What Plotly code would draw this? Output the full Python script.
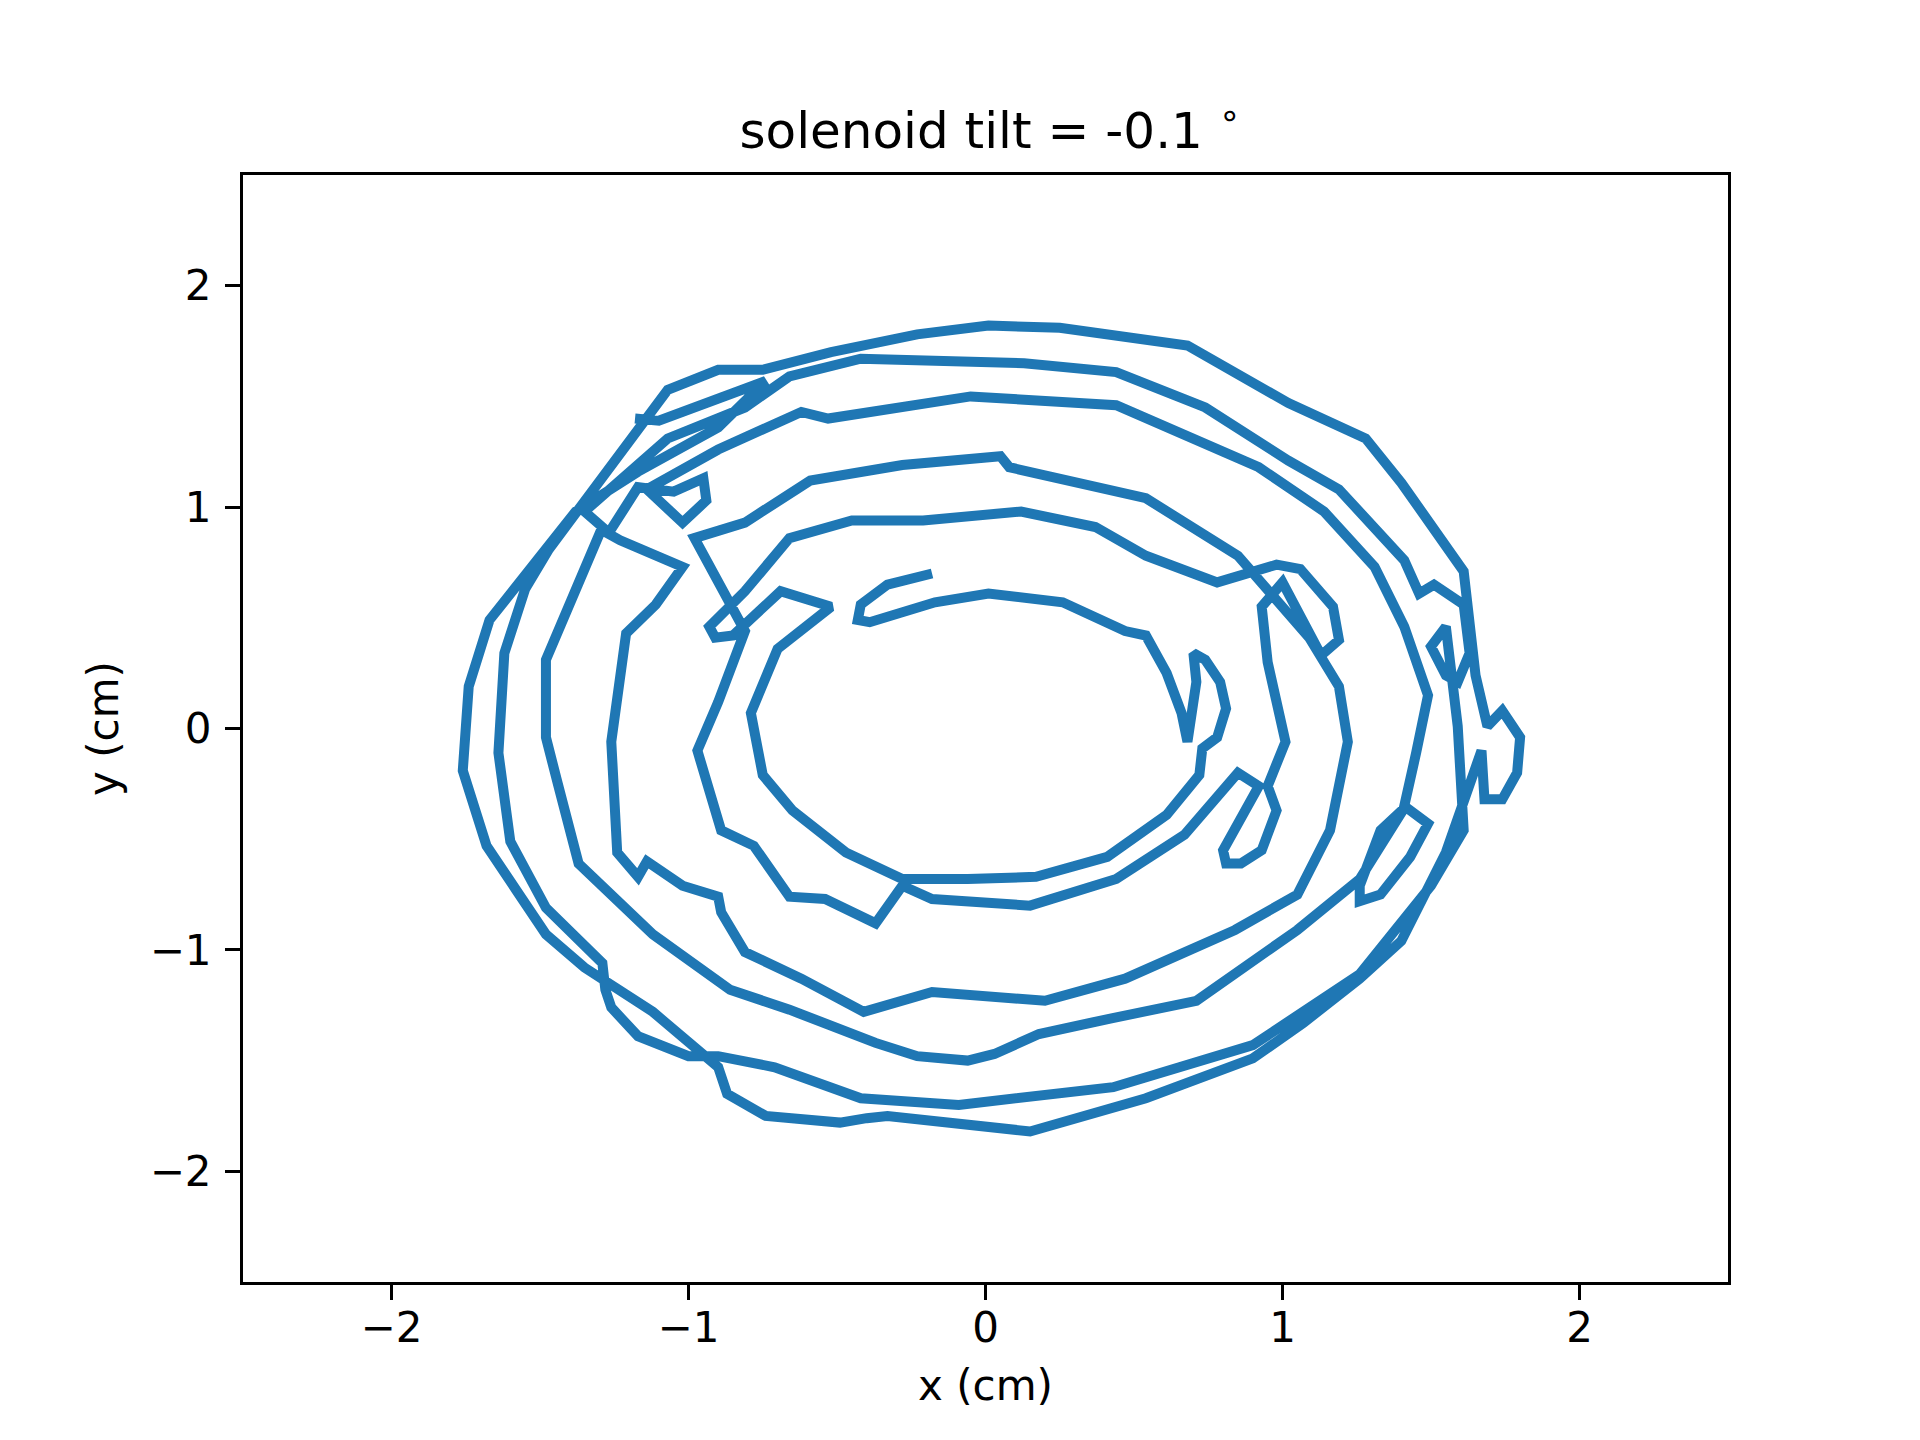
import plotly.graph_objects as go

# trajectory, one ring at a time (inner -> outer), in cm
ring1_x = [-0.18, -0.33, -0.42, -0.43, -0.39, -0.17, 0.01, 0.26, 0.47, 0.54, 0.61, 0.66, 0.68,
           0.71, 0.70, 0.74, 0.79, 0.81, 0.78, 0.73, 0.72, 0.61, 0.41, 0.17, -0.06, -0.28,
           -0.47, -0.65, -0.75, -0.79, -0.70, -0.52]
ring1_y = [0.70, 0.65, 0.56, 0.49, 0.48, 0.57, 0.61, 0.57, 0.44, 0.42, 0.25, 0.07, -0.06,
           0.21, 0.34, 0.31, 0.21, 0.09, -0.04, -0.09, -0.21, -0.39, -0.58, -0.67, -0.68, -0.68,
           -0.56, -0.37, -0.21, 0.07, 0.36, 0.55]

ring2_x = [-0.69, -0.85, -0.91, -0.93, -0.81, -0.66, -0.45, -0.21, 0.12, 0.37, 0.54, 0.78,
           0.98, 1.06, 1.17, 1.19, 1.13, 1.00, 0.93, 0.95,
           1.01, 0.95, 0.98, 0.93, 0.86, 0.81, 0.80, 0.92, 0.85, 0.67, 0.44, 0.15, -0.18, -0.28,
           -0.37, -0.54, -0.66, -0.78, -0.89, -0.97, -0.90, -0.81]
ring2_y = [0.62, 0.42, 0.41, 0.46, 0.62, 0.86, 0.94, 0.94, 0.98, 0.91, 0.78, 0.66,
           0.74, 0.72, 0.55, 0.40, 0.33, 0.66, 0.55, 0.30,
           -0.06, -0.26, -0.37, -0.55, -0.61, -0.61, -0.55, -0.26, -0.20, -0.48, -0.68, -0.80, -0.77, -0.71,
           -0.88, -0.77, -0.76, -0.53, -0.46, -0.10, 0.12, 0.44]

ring3_x = [-0.98, -0.81, -0.59, -0.28, 0.05, 0.08, 0.54, 0.85, 1.09, 1.19, 1.22, 1.16, 1.05, 0.84,
           0.47, 0.20, -0.18, -0.41, -0.62, -0.81, -0.89, -0.90, -1.02, -1.14, -1.17, -1.24,
           -1.26, -1.21, -1.11, -1.02,
           -1.23, -1.27, -1.17, -1.05, -0.95, -0.94, -1.02]
ring3_y = [0.86, 0.93, 1.12, 1.19, 1.23, 1.18, 1.04, 0.78, 0.41, 0.19, -0.06, -0.46, -0.75, -0.91,
           -1.13, -1.23, -1.19, -1.28, -1.13, -1.01, -0.83, -0.76, -0.71, -0.60, -0.67, -0.56,
           -0.06, 0.43, 0.56, 0.73,
           0.85, 0.88, 1.09, 1.07, 1.13, 1.03, 0.93]

ring4_x = [-1.14, -0.90, -0.62, -0.53, -0.05, 0.44, 0.66, 0.92, 1.14, 1.31, 1.41, 1.49, 1.45, 1.41,
           1.49, 1.43, 1.33, 1.26, 1.26, 1.33, 1.41, 1.26, 1.05, 0.71, 0.42, 0.18, 0.03, -0.06,
           -0.23, -0.37, -0.66, -0.86, -1.12, -1.24, -1.37, -1.44, -1.48, -1.48, -1.38, -1.29]
ring4_y = [1.08, 1.26, 1.43, 1.40, 1.50, 1.46, 1.33, 1.18, 0.98, 0.73, 0.46, 0.15, -0.11, -0.35,
           -0.43, -0.58, -0.75, -0.78, -0.71, -0.46, -0.36, -0.68, -0.91, -1.23, -1.31, -1.38, -1.47, -1.50,
           -1.48, -1.42, -1.27, -1.18, -0.93, -0.78, -0.61, -0.25, -0.04, 0.31, 0.63, 0.91]

ring5_x = [-1.35, -1.07, -0.81, -0.66, -0.42, 0.13, 0.44, 0.74, 1.02, 1.19, 1.41,
           1.46, 1.51, 1.61, 1.63, 1.59, 1.55, 1.50,
           1.55, 1.59, 1.61,
           1.50, 1.26, 0.90, 0.43, -0.09, -0.42, -0.71, -0.90, -1.00, -1.17, -1.26, -1.28, -1.29,
           -1.48, -1.60, -1.64, -1.62, -1.55, -1.47]
ring5_y = [0.98, 1.31, 1.45, 1.59, 1.67, 1.65, 1.61, 1.45, 1.21, 1.08, 0.76,
           0.61, 0.65, 0.56, 0.34, 0.21, 0.24, 0.37,
           0.46, 0.01, -0.46,
           -0.71, -1.11, -1.43, -1.62, -1.70, -1.67, -1.53, -1.48, -1.48, -1.39, -1.26, -1.18, -1.06,
           -0.81, -0.51, -0.11, 0.34, 0.63, 0.81]

ring6_x = [-1.07, -0.90, -0.75, -0.52, -0.23, 0.01, 0.25, 0.68, 1.02, 1.28, 1.40, 1.61, 1.65, 1.69,
           1.74, 1.80, 1.79, 1.74, 1.68, 1.67, 1.55, 1.40, 1.26, 1.07, 0.90, 0.54, 0.15, -0.33,
           -0.40, -0.49, -0.74, -0.87, -0.90, -1.12, -1.35, -1.48, -1.58, -1.68, -1.76, -1.74,
           -1.67, -1.53, -1.38, -1.17, -0.90, -0.74, -1.04, -1.10, -1.18]
ring6_y = [1.53, 1.62, 1.62, 1.70, 1.78, 1.82, 1.81, 1.73, 1.47, 1.31, 1.11, 0.71, 0.24, 0.01,
           0.08, -0.04, -0.20, -0.32, -0.32, -0.10, -0.56, -0.96, -1.13, -1.33, -1.49, -1.67, -1.82, -1.75,
           -1.76, -1.78, -1.75, -1.65, -1.53, -1.28, -1.08, -0.93, -0.73, -0.53, -0.19, 0.19,
           0.49, 0.73, 0.98, 1.16, 1.36, 1.57, 1.42, 1.39, 1.40]

x_pos = ring1_x + ring2_x + ring3_x + ring4_x + ring5_x + ring6_x
y_pos = ring1_y + ring2_y + ring3_y + ring4_y + ring5_y + ring6_y

tick_vals = [-2, -1, 0, 1, 2]

font = "DejaVu Sans"

fig = go.Figure()
fig.add_trace(go.Scatter(
    x=x_pos, y=y_pos,
    mode="lines",
    line={"color": "#1f77b4", "width": 10},
    showlegend=False
))

axis_style = {
    "range": [-2.5, 2.5],
    "tickvals": tick_vals,
    "ticks": "outside",
    "ticklen": 15,
    "tickwidth": 3,
    "tickcolor": "black",
    "showline": True,
    "linecolor": "black",
    "linewidth": 3,
    "mirror": True,
    "showgrid": False,
    "zeroline": False,
    "tickfont": {"family": font, "size": 42, "color": "black"},
}

fig.update_xaxes(**axis_style, ticklabelstandoff=-8,
                 title={"text": "x (cm)", "font": {"family": font, "size": 42, "color": "black"}, "standoff": 20})
fig.update_yaxes(**axis_style, ticklabelstandoff=5,
                 title={"text": "y (cm)", "font": {"family": font, "size": 42, "color": "black"}, "standoff": 18})

fig.update_layout(
    width=1920,
    height=1440,
    paper_bgcolor="white",
    plot_bgcolor="white",
    margin={"l": 235, "r": 200, "t": 167, "b": 166, "pad": 0},
    title={
        "text": "solenoid tilt = -0.1 <sup>∘</sup>",
        "font": {"family": font, "size": 50, "color": "black"},
        "x": 0.5115,
        "xanchor": "center",
        "y": 1 - 122 / 1440,
        "yanchor": "middle",
        "yref": "container"
    }
)

fig.write_html("out.html")
